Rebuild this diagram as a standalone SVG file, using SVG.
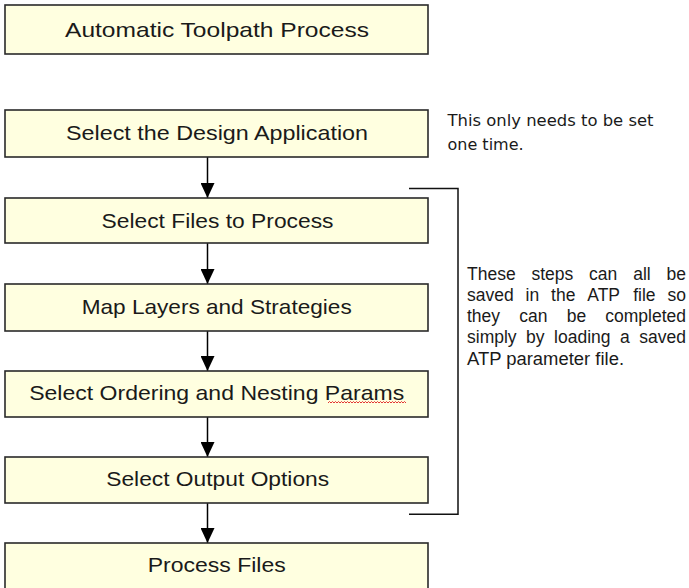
<svg xmlns="http://www.w3.org/2000/svg" width="689" height="588" viewBox="0 0 689 588">
<defs>
<style>
.box{fill:#FFFFE0;stroke:#2a2a2a;stroke-width:1.6}
.lbl{font-family:"Liberation Sans",Arial,sans-serif;font-size:21px;fill:#1a1a1a;text-anchor:middle}
.note{font-family:"DejaVu Sans","Liberation Sans",sans-serif;font-size:16px;fill:#1a1a1a}
.just{font-family:"Liberation Sans",Arial,sans-serif;font-size:17.5px;fill:#1a1a1a}
.conn{stroke:#000;stroke-width:1.5;fill:none}
.brk{stroke:#111;stroke-width:1.5;fill:none}
</style>
<marker id="ah" markerUnits="userSpaceOnUse" markerWidth="15" markerHeight="14" refX="15" refY="7" orient="auto">
<path d="M0,0 L15,7 L0,14 z" fill="#000"/>
</marker>
</defs>
<rect width="689" height="588" fill="#fff"/>
<g id="connectors">
<line class="conn" x1="207.5" y1="157" x2="207.5" y2="198" marker-end="url(#ah)"/>
<line class="conn" x1="207.5" y1="243" x2="207.5" y2="284" marker-end="url(#ah)"/>
<line class="conn" x1="207.5" y1="331" x2="207.5" y2="371" marker-end="url(#ah)"/>
<line class="conn" x1="207.5" y1="417" x2="207.5" y2="457" marker-end="url(#ah)"/>
<line class="conn" x1="207.5" y1="503" x2="207.5" y2="543" marker-end="url(#ah)"/>
<path id="bracket" class="brk" d="M409,188.5 H458 V514.3 H409"/>
</g>
<g id="n-title">
<rect class="box" x="5" y="5" width="423" height="49"/>
<text class="lbl" x="217" y="36.5" textLength="304" lengthAdjust="spacingAndGlyphs">Automatic Toolpath Process</text>
</g>
<g id="n-design">
<rect class="box" x="5" y="110" width="423" height="47"/>
<text class="lbl" x="217" y="140" textLength="302" lengthAdjust="spacingAndGlyphs">Select the Design Application</text>
</g>
<g id="n-files">
<rect class="box" x="5" y="198" width="423" height="45"/>
<text class="lbl" x="217.5" y="227.5" textLength="232" lengthAdjust="spacingAndGlyphs">Select Files to Process</text>
</g>
<g id="n-map">
<rect class="box" x="5" y="284" width="423" height="47"/>
<text class="lbl" x="216.7" y="314" textLength="270" lengthAdjust="spacingAndGlyphs">Map Layers and Strategies</text>
</g>
<g id="n-order">
<rect class="box" x="5" y="371" width="423" height="46"/>
<text class="lbl" x="216.7" y="400" textLength="375" lengthAdjust="spacingAndGlyphs">Select Ordering and Nesting Params</text>
<path d="M328,403 l1.5,-1.5 l1.5,1.5 l1.5,-1.5 l1.5,1.5 l1.5,-1.5 l1.5,1.5 l1.5,-1.5 l1.5,1.5 l1.5,-1.5 l1.5,1.5 l1.5,-1.5 l1.5,1.5 l1.5,-1.5 l1.5,1.5 l1.5,-1.5 l1.5,1.5 l1.5,-1.5 l1.5,1.5 l1.5,-1.5 l1.5,1.5 l1.5,-1.5 l1.5,1.5 l1.5,-1.5 l1.5,1.5 l1.5,-1.5 l1.5,1.5 l1.5,-1.5 l1.5,1.5 l1.5,-1.5 l1.5,1.5 l1.5,-1.5 l1.5,1.5 l1.5,-1.5 l1.5,1.5 l1.5,-1.5 l1.5,1.5 l1.5,-1.5 l1.5,1.5 l1.5,-1.5 l1.5,1.5 l1.5,-1.5 l1.5,1.5 l1.5,-1.5 l1.5,1.5 l1.5,-1.5 l1.5,1.5 l1.5,-1.5 l1.5,1.5 l1.5,-1.5 l1.5,1.5 l1.5,-1.5 l1.5,1.5" fill="none" stroke="#e02020" stroke-width="0.9"/>
</g>
<g id="n-output">
<rect class="box" x="5" y="457" width="423" height="46"/>
<text class="lbl" x="217.7" y="486" textLength="223" lengthAdjust="spacingAndGlyphs">Select Output Options</text>
</g>
<g id="n-process">
<rect class="box" x="5" y="543" width="423" height="52"/>
<text class="lbl" x="216.7" y="571.5" textLength="138" lengthAdjust="spacingAndGlyphs">Process Files</text>
</g>
<g id="note-once">
<text class="note" x="447.5" y="126" textLength="206" lengthAdjust="spacingAndGlyphs">This only needs to be set</text>
<text class="note" x="447.5" y="149.5">one time.</text>
</g>
<g id="note-steps">
<text class="just" y="279.5"><tspan x="467">These</tspan><tspan x="531.5">steps</tspan><tspan x="589.1">can</tspan><tspan x="633.2">all</tspan><tspan x="686" text-anchor="end">be</tspan></text>
<text class="just" y="300.5"><tspan x="467">saved</tspan><tspan x="525.6">in</tspan><tspan x="551.1">the</tspan><tspan x="587.3">ATP</tspan><tspan x="633.2">file</tspan><tspan x="686" text-anchor="end">so</tspan></text>
<text class="just" y="321.5"><tspan x="467">they</tspan><tspan x="519.3">can</tspan><tspan x="566.7">be</tspan><tspan x="686" text-anchor="end">completed</tspan></text>
<text class="just" y="343"><tspan x="467">simply</tspan><tspan x="526.1">by</tspan><tspan x="554.1">loading</tspan><tspan x="620.1">a</tspan><tspan x="686" text-anchor="end">saved</tspan></text>
<text class="just" x="467" y="364.5" textLength="157" lengthAdjust="spacingAndGlyphs">ATP parameter file.</text>
</g>
</svg>
